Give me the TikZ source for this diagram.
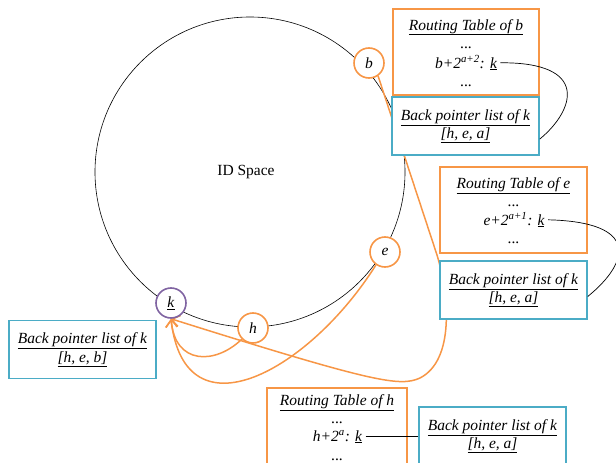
\documentclass[tikz,border=0pt]{standalone}
\usepackage{fontspec}
\setmainfont{Liberation Serif}
\usepackage{tikz}
\usetikzlibrary{arrows.meta}

\definecolor{peerorange}{RGB}{247,150,70}
\definecolor{listteal}{RGB}{75,172,198}
\definecolor{keypurple}{RGB}{128,100,162}

\pgfdeclarelayer{background}
\pgfsetlayers{background,main}

\begin{document}
\begin{tikzpicture}[x=1pt,y=-1pt,
  every node/.style={font=\fontsize{15.5}{18.5}\selectfont},
  peer/.style={draw=peerorange, circle, line width=1.6pt, fill=white, minimum size=30pt, inner sep=0pt},
  rtbox/.style={draw=peerorange, line width=1.5pt, fill=white, minimum width=146pt, minimum height=86pt},
  bpbox/.style={draw=listteal, line width=1.5pt, fill=white, minimum width=147pt, minimum height=58pt, align=center, inner sep=0pt},
  rtline/.style={anchor=base},
  back/.style={draw=peerorange, line width=1.5pt, -{Straight Barb[length=7pt,width=12pt]}}]
\useasboundingbox (0,0) rectangle (616,463);

% ID space and the peers on it
\node (idspace) at (246,172) {ID Space};
\node (b) at (369,63)  [peer] {\textit{b}};
\node (e) at (385,252) [peer] {\textit{e}};
\node (h) at (253,328) [peer] {\textit{h}};
\node (k) at (171,303) [peer, draw=keypurple] {\underline{\textit{k}}};

% routing table and back pointers of b
\node (rtb) at (466,52) [rtbox] {};
\node (rtbtitle) at (466,30) [rtline] {\underline{\textit{Routing Table of b}}};
\node (rtbdots) at (466,48) [rtline] {...};
\node (rtbk) at (466,68) [rtline] {\textit{b+2\textsuperscript{a+2}: \underline{k}}};
\node (rtbdotss) at (466,86) [rtline] {...};
\node (bpb) at (465.5,126) [bpbox] {\underline{\textit{Back pointer list of k}}\\\underline{\textit{[h, e, a]}}};

% routing table and back pointers of e
\node (rte) at (513.5,210) [rtbox, minimum width=147pt] {};
\node (rtetitle) at (513.5,188) [rtline] {\underline{\textit{Routing Table of e}}};
\node (rtedots) at (513.5,206) [rtline] {...};
\node (rtek) at (514,225) [rtline] {\textit{e+2\textsuperscript{a+1}: \underline{k}}};
\node (rtedotss) at (513.5,243) [rtline] {...};
\node (bpe) at (513.5,290) [bpbox] {\underline{\textit{Back pointer list of k}}\\\underline{\textit{[h, e, a]}}};

% back pointers of k
\node (bpk) at (82.5,349.5) [bpbox] {\underline{\textit{Back pointer list of k}}\\\underline{\textit{[h, e, b]}}};

% routing table and back pointers of h
\node (rth) at (337,431) [rtbox, minimum width=140pt] {};
\node (rthtitle) at (337,405) [rtline] {\underline{\textit{Routing Table of h}}};
\node (rthdots) at (337,423) [rtline] {...};
\node (rthk) at (337.5,441) [rtline] {\textit{h+2\textsuperscript{a}: \underline{k}}};
\node (rthdotss) at (337,460) [rtline] {...};
\node (bph) at (492.5,436) [bpbox] {\underline{\textit{Back pointer list of k}}\\\underline{\textit{[h, e, a]}}};

% table entries to back pointer lists
\draw[line width=0.7pt] (rtbk.east) .. controls (590,62) and (575,110) .. (bpb.-10);
\draw[line width=0.7pt] (rtek.east) .. controls (640,222) and (630,262) .. (bpe.-5);
\draw[line width=0.7pt] (rthk.east) -- (rthk.east -| bph.west);

\begin{pgfonlayer}{background}
\draw[line width=0.6pt] (idspace.center) ++(4,0) circle (155);
\draw[back] (h.225) .. controls (215,365) and (175,365) .. (k.south);
\draw[back] (e.235) .. controls (310,370) and (185,440) .. (k.south);
\draw[back] (b.-55) -- (437,255) .. controls (449,295) and (455,360) .. (420,378)
  .. controls (400,387) and (375,383) .. (k.south);
\end{pgfonlayer}

\end{tikzpicture}
\end{document}
